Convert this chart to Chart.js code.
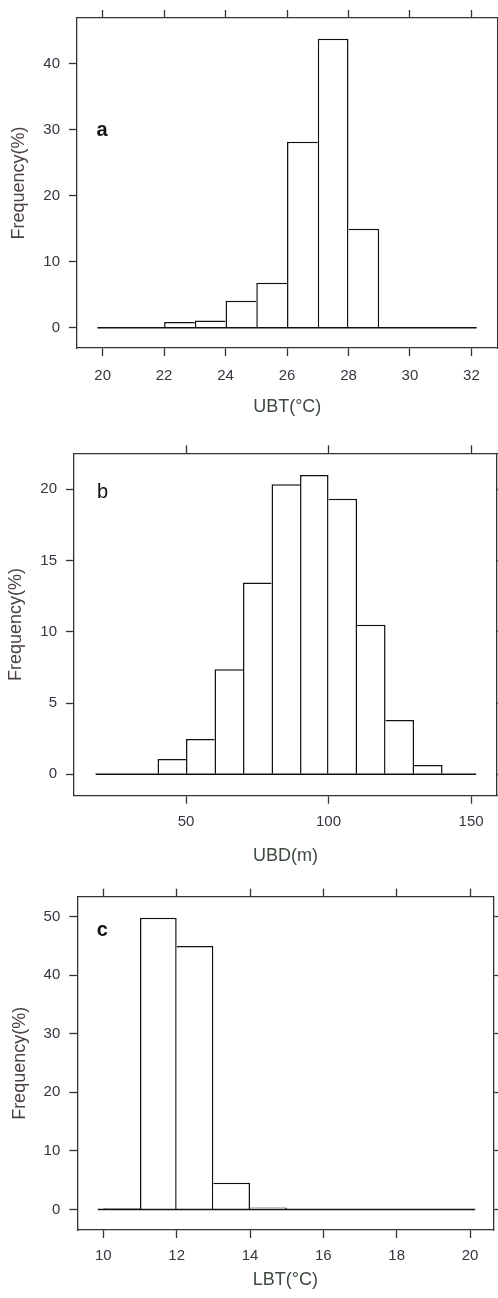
<!DOCTYPE html>
<html><head><meta charset="utf-8">
<script src="https://cdn.jsdelivr.net/npm/chart.js@4"></script>
<style>
html,body{margin:0;padding:0;background:#fff}
body{width:498px;height:1298px;position:relative;overflow:hidden}
canvas{position:absolute;left:0}
</style></head><body>
<canvas id="ca" width="498" height="420" style="top:0px"></canvas>
<canvas id="cb" width="498" height="450" style="top:420px"></canvas>
<canvas id="cc" width="498" height="428" style="top:870px"></canvas>
<script>
// ---- Panel a: UBT ----
const ubtBinStart = [22, 23, 24, 25, 26, 27, 28];
const ubtFreq     = [0.9, 1.1, 4.1, 6.85, 28.2, 43.8, 15.0];
const ubtBinWidth = 1;
const ubtRange    = [19.83, 32.17];
const ubtXTicks   = [20, 22, 24, 26, 28, 30, 32];
const ubtYTicks   = [0, 10, 20, 30, 40];

// ---- Panel b: UBD ----
const ubdBinStart = [40, 50, 60, 70, 80, 90, 100, 110, 120, 130];
const ubdFreq     = [1.07, 2.48, 7.37, 13.47, 20.35, 21.0, 19.34, 10.5, 3.81, 0.65];
const ubdBinWidth = 10;
const ubdRange    = [18.3, 151.8];
const ubdXTicks   = [50, 100, 150];
const ubdYTicks   = [0, 5, 10, 15, 20];

// ---- Panel c: LBT ----
const lbtBinStart = [10, 11, 12, 13, 14];
const lbtFreq     = [0.2, 49.8, 45.0, 4.55, 0.34];
const lbtBinWidth = 1;
const lbtRange    = [9.85, 20.14];
const lbtXTicks   = [10, 12, 14, 16, 18, 20];
const lbtYTicks   = [0, 10, 20, 30, 40, 50];

const FONT = "'Liberation Sans', Arial, sans-serif";
const AX = '#333333';
const BAR = '#111111';
const LW = 1.5;

const panelLabel = {
  id: 'panelLabel',
  afterDraw(chart, args, o) {
    const {ctx, chartArea} = chart;
    ctx.save();
    ctx.font = o.font;
    ctx.fillStyle = o.color;
    ctx.textAlign = 'center';
    ctx.textBaseline = 'middle';
    ctx.fillText(o.text, chartArea.left + o.dx, chartArea.top + o.dy);
    ctx.restore();
  }
};

function makePanel(id, d, L) {
  const bars = d.binStart.map((s, i) => ({x: s + d.binWidth / 2, y: d.freq[i]}));
  const h = d.freq, n = h.length;
  const tickSet = arr => s => { s.ticks = arr.map(v => ({value: v})); };
  const gridOpts = {display: true, offset: false, drawOnChartArea: false, drawTicks: true, tickLength: 8, tickColor: AX, tickWidth: 1.3};
  const borderOpts = {display: true, color: AX, width: 1.3};
  const tickFont = {family: FONT, size: 15};
  const tickColor = '#3a3340';
  new Chart(document.getElementById(id), {
    type: 'bar',
    data: {
      datasets: [
        {
          type: 'bar',
          data: bars,
          backgroundColor: '#ffffff',
          borderColor: BAR,
          borderSkipped: false,
          inflateAmount: 0,
          borderWidth: ctx => {
            const i = ctx.dataIndex;
            return {
              top: LW, bottom: 0,
              left: (i === 0 || h[i] >= h[i - 1]) ? LW : 0,
              right: (i === n - 1 || h[i] > h[i + 1]) ? LW : 0
            };
          },
          barPercentage: 1,
          categoryPercentage: 1,
          order: 2
        },
        {
          type: 'line',
          data: [{x: d.range[0], y: 0}, {x: d.range[1], y: 0}],
          borderColor: BAR,
          borderWidth: LW,
          pointRadius: 0,
          fill: false,
          order: 1
        }
      ]
    },
    options: {
      responsive: false,
      animation: false,
      devicePixelRatio: 1,
      layout: {padding: 0},
      plugins: {
        legend: {display: false},
        tooltip: {enabled: false},
        panelLabel: {text: L.label, dx: L.labelDx, dy: L.labelDy, font: L.labelFont + ' 20px ' + FONT, color: '#111'}
      },
      scales: {
        x: {
          type: 'linear', position: 'bottom', min: L.xMin, max: L.xMax, bounds: 'data', offset: false,
          afterBuildTicks: tickSet(d.xTicks),
          afterFit: s => { s.height = L.bottomH; },
          grid: gridOpts, border: borderOpts,
          ticks: {font: tickFont, color: tickColor, padding: L.xTickPad, maxRotation: 0, minRotation: 0, autoSkip: false},
          title: {display: true, text: d.xTitle, font: {family: FONT, size: 18}, color: '#3d4a3d', padding: {top: 0, bottom: L.xTitlePad}}
        },
        x2: {
          type: 'linear', position: 'top', min: L.xMin, max: L.xMax, bounds: 'data', offset: false,
          afterBuildTicks: tickSet(d.xTicks),
          afterFit: s => { s.height = L.topH; },
          grid: gridOpts, border: borderOpts,
          ticks: {display: false}
        },
        y: {
          type: 'linear', position: 'left', min: L.yMin, max: L.yMax, bounds: 'data',
          afterBuildTicks: tickSet(d.yTicks),
          afterFit: s => { s.width = L.leftW; },
          grid: gridOpts, border: borderOpts,
          ticks: {font: tickFont, color: tickColor, padding: 9, autoSkip: false},
          title: {display: true, text: 'Frequency(%)', font: {family: FONT, size: 18}, color: '#4a4242', padding: {top: L.yTitlePad, bottom: 0}}
        },
        y2: {
          type: 'linear', position: 'right', min: L.yMin, max: L.yMax, bounds: 'data',
          afterBuildTicks: tickSet(d.yTicks),
          afterFit: s => { s.width = L.rightW; },
          grid: gridOpts, border: borderOpts,
          ticks: {display: false}
        }
      }
    },
    plugins: [panelLabel]
  });
}

makePanel('ca',
  {binStart: ubtBinStart, freq: ubtFreq, binWidth: ubtBinWidth, range: ubtRange, xTicks: ubtXTicks, yTicks: ubtYTicks, xTitle: 'UBT(°C)'},
  {xMin: 19.165, xMax: 32.85, yMin: -3.05, yMax: 46.95, topH: 12, bottomH: 72, leftW: 77, rightW: 0.5,
   xTickPad: 11, yTitlePad: 8.5, xTitlePad: 2.2, label: 'a', labelFont: 'bold', labelDx: 25, labelDy: 112});

makePanel('cb',
  {binStart: ubdBinStart, freq: ubdFreq, binWidth: ubdBinWidth, range: ubdRange, xTicks: ubdXTicks, yTicks: ubdYTicks, xTitle: 'UBD(m)'},
  {xMin: 10.7, xMax: 159.1, yMin: -1.5, yMax: 22.53, topH: 33.3, bottomH: 74.3, leftW: 74, rightW: 1,
   xTickPad: 9, yTitlePad: 5.7, xTitlePad: 3.2, label: 'b', labelFont: 'normal', labelDx: 28.5, labelDy: 39});

makePanel('cc',
  {binStart: lbtBinStart, freq: lbtFreq, binWidth: lbtBinWidth, range: lbtRange, xTicks: lbtXTicks, yTicks: lbtYTicks, xTitle: 'LBT(°C)'},
  {xMin: 9.29, xMax: 20.64, yMin: -3.5, yMax: 53.4, topH: 26.7, bottomH: 68, leftW: 77.3, rightW: 4.5,
   xTickPad: 9, yTitlePad: 9.2, xTitlePad: 7.2, label: 'c', labelFont: 'bold', labelDx: 25, labelDy: 34});
</script>
</body></html>
